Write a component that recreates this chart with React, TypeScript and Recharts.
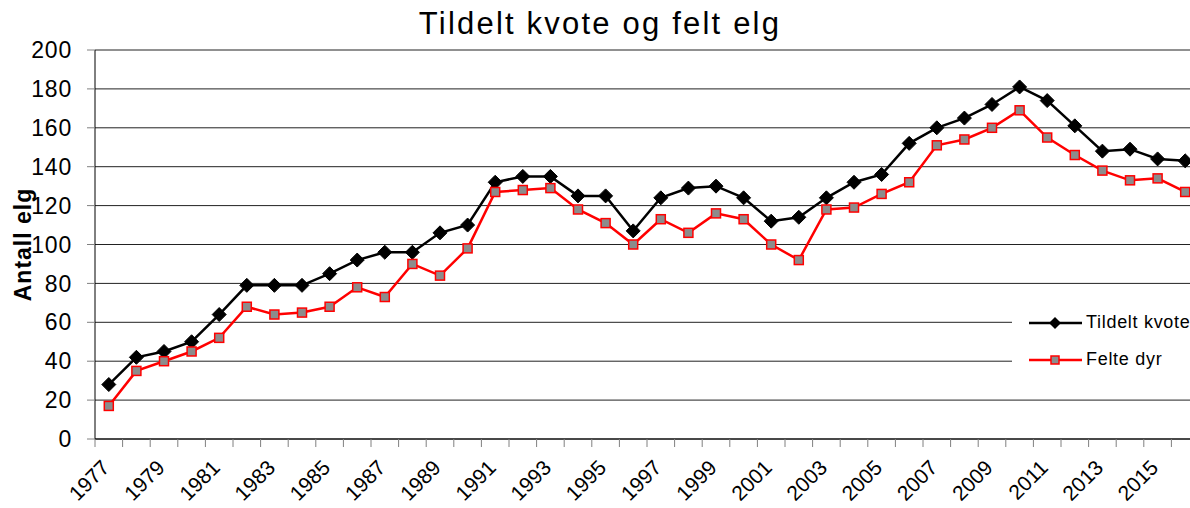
import React from 'react';
import { LineChart, Line, XAxis, YAxis, CartesianGrid } from 'recharts';

const years = [
  '1977', '1978', '1979', '1980', '1981', '1982', '1983', '1984', '1985', '1986',
  '1987', '1988', '1989', '1990', '1991', '1992', '1993', '1994', '1995', '1996',
  '1997', '1998', '1999', '2000', '2001', '2002', '2003', '2004', '2005', '2006',
  '2007', '2008', '2009', '2010', '2011', '2012', '2013', '2014', '2015', '2016',
];

const tildeltKvote = [
  28, 42, 45, 50, 64, 79, 79, 79, 85, 92,
  96, 96, 106, 110, 132, 135, 135, 125, 125, 107,
  124, 129, 130, 124, 112, 114, 124, 132, 136, 152,
  160, 165, 172, 181, 174, 161, 148, 149, 144, 143,
];

const felteDyr = [
  17, 35, 40, 45, 52, 68, 64, 65, 68, 78,
  73, 90, 84, 98, 127, 128, 129, 118, 111, 100,
  113, 106, 116, 113, 100, 92, 118, 119, 126, 132,
  151, 154, 160, 169, 155, 146, 138, 133, 134, 127,
];

const yTicks = [0, 20, 40, 60, 80, 100, 120, 140, 160, 180, 200];

const seriesNames = { kvote: 'Tildelt kvote', felte: 'Felte dyr' };

const data = years.map((y, i) => ({ year: y, kvote: tildeltKvote[i], felte: felteDyr[i] }));

const FONT = '"Liberation Sans", Arial, Helvetica, sans-serif';
const CHART_W = 1210;
const CHART_H = 508;
const PLOT_LEFT = 95;
const PLOT_RIGHT = 1199;
const BAND = (PLOT_RIGHT - PLOT_LEFT) / years.length;

const Diamond = (props: any) => {
  const { cx, cy } = props;
  if (cx == null || cy == null) return null;
  const r = 7;
  return (
    <polygon
      points={`${cx},${cy - r} ${cx + r},${cy} ${cx},${cy + r} ${cx - r},${cy}`}
      fill="#000"
      stroke="#000"
      strokeWidth={1}
    />
  );
};

const Square = (props: any) => {
  const { cx, cy } = props;
  if (cx == null || cy == null) return null;
  const s = 9;
  return (
    <rect x={cx - s / 2} y={cy - s / 2} width={s} height={s} fill="#8c8c8c" stroke="#ff0000" strokeWidth={1.5} />
  );
};

const XTick = (props: any) => {
  const { x, y, payload, index } = props;
  const bx = x - BAND / 2;
  const showLabel = index % 2 === 0;
  const ax = x + 2;
  const ay = y + 22;
  return (
    <g>
      <line x1={bx} y1={y - 8} x2={bx} y2={y} stroke="#808080" strokeWidth={1} />
      {index === years.length - 1 && (
        <line x1={x + BAND / 2} y1={y - 8} x2={x + BAND / 2} y2={y} stroke="#808080" strokeWidth={1} />
      )}
      {showLabel && (
        <text
          x={ax}
          y={ay}
          textAnchor="end"
          fontSize={21}
          fontFamily={FONT}
          fill="#000"
          transform={`rotate(-45, ${ax}, ${ay})`}
        >
          {payload.value}
        </text>
      )}
    </g>
  );
};

const LegendRow = ({ kind, label }: { kind: 'kvote' | 'felte'; label: string }) => (
  <div style={{ display: 'flex', alignItems: 'center', height: 37 }}>
    <svg width={58} height={20} style={{ display: 'block' }}>
      {kind === 'kvote' ? (
        <>
          <line x1={2} y1={10} x2={55} y2={10} stroke="#000" strokeWidth={2.5} />
          <polygon points="28,4 34,10 28,16 22,10" fill="#000" />
        </>
      ) : (
        <>
          <line x1={2} y1={10} x2={55} y2={10} stroke="#ff0000" strokeWidth={2.5} />
          <rect x={24} y={6} width={8} height={8} fill="#8c8c8c" stroke="#ff0000" strokeWidth={1.5} />
        </>
      )}
    </svg>
    <span
      style={{
        fontFamily: FONT,
        fontSize: 18,
        letterSpacing: 0.7,
        color: '#000',
        whiteSpace: 'nowrap',
        marginLeft: 1,
      }}
    >
      {label}
    </span>
  </div>
);

export default function App() {
  return (
    <div
      style={{
        position: 'absolute',
        left: 0,
        top: 0,
        width: 1190,
        height: 508,
        overflow: 'hidden',
        background: '#fff',
      }}
    >
      <div
        style={{
          position: 'absolute',
          left: 0,
          top: 5,
          width: 1200,
          textAlign: 'center',
          fontFamily: FONT,
          fontSize: 31,
          letterSpacing: 2.2,
          lineHeight: '38px',
          color: '#000',
        }}
      >
        Tildelt kvote og felt elg
      </div>
      <div style={{ position: 'absolute', left: 0, top: 0 }}>
        <LineChart
          width={CHART_W}
          height={CHART_H}
          data={data}
          margin={{ top: 50, right: CHART_W - PLOT_RIGHT, bottom: 0, left: 0 }}
        >
          <CartesianGrid vertical={false} horizontal stroke="#222" strokeWidth={1} />
          <XAxis
            dataKey="year"
            interval={0}
            height={69}
            tickSize={8}
            tickMargin={0}
            tickLine={false}
            padding={{ left: BAND / 2, right: BAND / 2 }}
            axisLine={{ stroke: '#000', strokeWidth: 1 }}
            tick={<XTick />}
          />
          <YAxis
            domain={[0, 200]}
            ticks={yTicks}
            width={PLOT_LEFT}
            tickSize={8}
            tickMargin={15}
            tickLine={{ stroke: '#808080' }}
            axisLine={{ stroke: '#000', strokeWidth: 1 }}
            tick={{ fill: '#000', fontSize: 23, fontFamily: FONT, letterSpacing: 0.8 }}
            label={{
              value: 'Antall elg',
              angle: -90,
              position: 'insideLeft',
              dx: 18,
              style: {
                fontFamily: FONT,
                fontSize: 23,
                fontWeight: 'bold',
                letterSpacing: 1,
                fill: '#000',
                textAnchor: 'middle',
              },
            }}
          />
          <Line
            type="linear"
            dataKey="kvote"
            name={seriesNames.kvote}
            stroke="#000"
            strokeWidth={2.5}
            dot={<Diamond />}
            isAnimationActive={false}
          />
          <Line
            type="linear"
            dataKey="felte"
            name={seriesNames.felte}
            stroke="#ff0000"
            strokeWidth={2.5}
            dot={<Square />}
            isAnimationActive={false}
          />
        </LineChart>
      </div>
      <div
        style={{
          position: 'absolute',
          left: 1012,
          top: 291,
          width: 190,
          height: 98,
          background: '#fff',
          paddingLeft: 15,
          paddingTop: 13,
          boxSizing: 'border-box',
        }}
      >
        <LegendRow kind="kvote" label={seriesNames.kvote} />
        <LegendRow kind="felte" label={seriesNames.felte} />
      </div>
    </div>
  );
}
